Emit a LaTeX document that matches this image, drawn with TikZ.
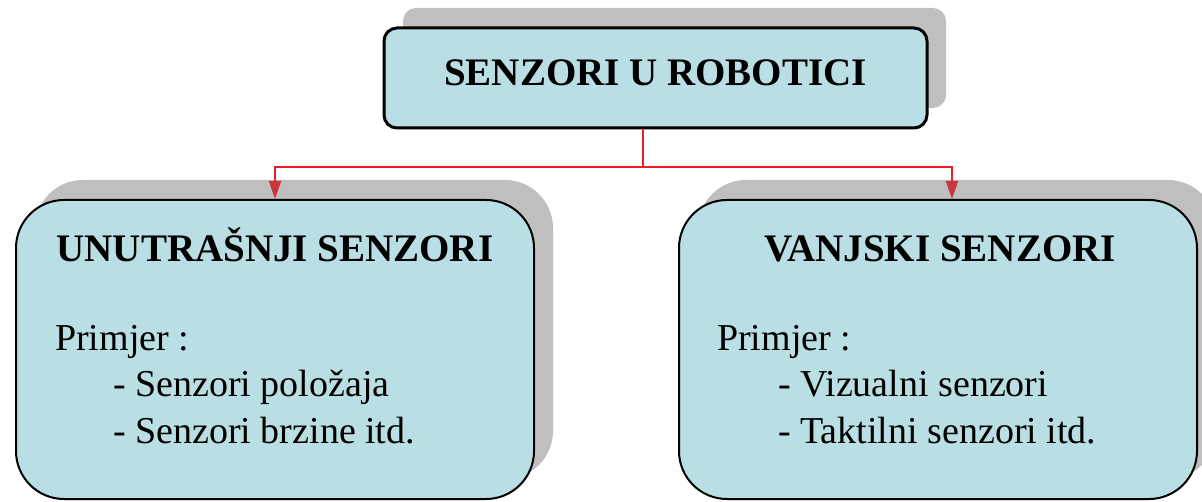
\documentclass[tikz,border=0pt]{standalone}
\usepackage{fontspec}
\setmainfont{Liberation Serif}
\usetikzlibrary{arrows.meta,shadows}

\definecolor{boxfill}{RGB}{185,222,227}
\definecolor{shadowgrey}{RGB}{191,191,191}
\definecolor{linkred}{RGB}{238,28,36}
\definecolor{tipred}{RGB}{200,55,60}

\begin{document}
\begin{tikzpicture}[x=1pt,y=-1pt,
  boxshadow/.style={general shadow={shadow xshift=19pt,shadow yshift=20pt,fill=shadowgrey}},
  rootbox/.style={draw=black,line width=3pt,fill=boxfill,rounded corners=13pt,
    minimum width=543pt,minimum height=100pt,inner sep=0pt,boxshadow},
  groupbox/.style={draw=black,line width=2pt,fill=boxfill,rounded corners=48pt,
    minimum width=518pt,minimum height=299pt,inner sep=0pt,boxshadow},
  headtext/.style={anchor=base,inner sep=0pt,font=\fontsize{39pt}{47pt}\selectfont\bfseries},
  bodytext/.style={anchor=base west,inner sep=0pt,font=\fontsize{38pt}{48pt}\selectfont},
  link/.style={draw=linkred,line width=2pt},
  arrowlink/.style={link,-{Triangle[length=18pt 0 0,width=12pt 0 0,color=tipred]}}
]
\useasboundingbox (0,0) rectangle (1202,502);

% boxes
\node[rootbox] (root) at (655.5,78) {};
\node[groupbox] (intl) at (275,349.5) {};
\node[groupbox] (extl) at (938,349.5) {};

% connectors
\coordinate (split) at (643,167);
\draw[link] (split |- root.south) -- (split);
\draw[arrowlink] (split) -| (intl.north);
\draw[arrowlink] (split) -| ([xshift=14pt]extl.north);

% headings
\node[headtext] (roottitle) at (655.5,86) {SENZORI U ROBOTICI};
\node[headtext] (intltitle) at (275,262) {UNUTRAŠNJI SENZORI};
\node[headtext] (extltitle) at (940,262) {VANJSKI SENZORI};

% internal sensors list
\node[bodytext] (intlhead) at (55,351) {Primjer :};
\node[bodytext] (intlone) at (113,397) {- Senzori položaja};
\node[bodytext] (intltwo) at (113,443) {- Senzori brzine itd.};

% external sensors list
\node[bodytext] (extlhead) at (717,351) {Primjer :};
\node[bodytext] (extlone) at (778,397) {- Vizualni senzori};
\node[bodytext] (extltwo) at (778,443) {- Taktilni senzori itd.};
\end{tikzpicture}
\end{document}
